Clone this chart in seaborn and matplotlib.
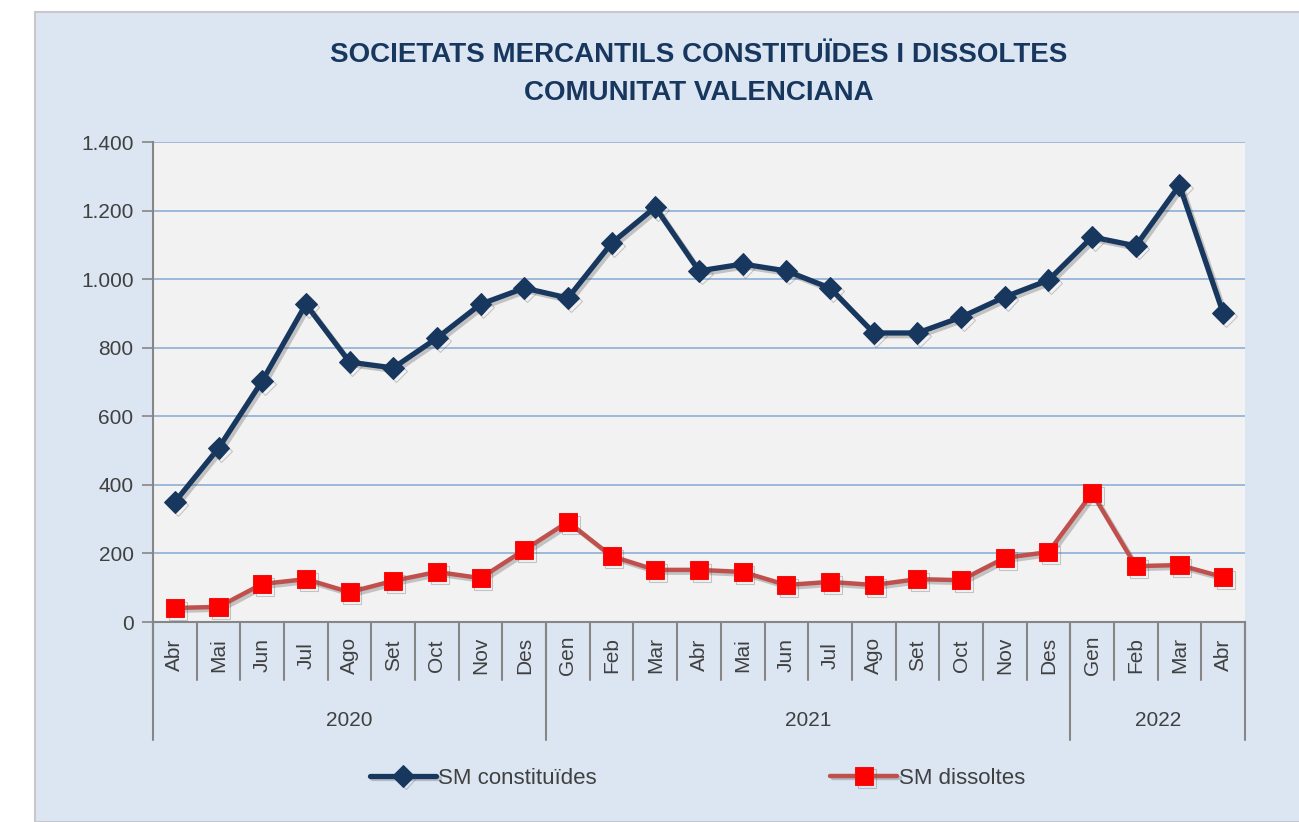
import matplotlib
matplotlib.use('Agg')
import matplotlib.pyplot as plt
import matplotlib.patheffects as pe
from matplotlib.patches import Rectangle
import seaborn as sns
import pandas as pd

# data
months = ['Abr', 'Mai', 'Jun', 'Jul', 'Ago', 'Set', 'Oct', 'Nov', 'Des',
          'Gen', 'Feb', 'Mar', 'Abr', 'Mai', 'Jun', 'Jul', 'Ago', 'Set', 'Oct', 'Nov', 'Des',
          'Gen', 'Feb', 'Mar', 'Abr']
years = ['2020', '2021', '2022']
year_counts = [9, 12, 4]
constituides = [350, 507, 703, 927, 758, 741, 828, 927, 974,
                945, 1105, 1210, 1024, 1044, 1024, 974, 843, 843, 889, 948, 997,
                1123, 1097, 1274, 901]
dissoltes = [41, 44, 111, 125, 87, 120, 146, 128, 210,
             292, 192, 152, 152, 146, 108, 117, 108, 125, 122, 187, 204,
             376, 163, 166, 131]

df = pd.DataFrame({'idx': range(len(months)), 'mes': months,
                   'constituides': constituides, 'dissoltes': dissoltes})

sns.set_style('white')
plt.rcParams['font.family'] = ['Liberation Sans', 'DejaVu Sans']

navy = '#17375e'
red_line = '#c0504d'
text_col = '#404040'

fig = plt.figure(figsize=(12.99, 8.22), dpi=100)
fig.patch.set_facecolor('white')
fig.patches.append(Rectangle((35 / 1299, 0), 1, 1 - 12 / 822, transform=fig.transFigure,
                             facecolor='#dce6f2', edgecolor='#c8c8c8', lw=1.5, zorder=-10))

ax = fig.add_axes([153 / 1299, 1 - 622 / 822, (1245 - 153) / 1299, 480 / 822])
ax.set_facecolor('#f2f2f2')

shadow = [pe.SimpleLineShadow(offset=(2, -2), alpha=0.3, shadow_color='#555555'), pe.Normal()]

sns.lineplot(data=df, x='idx', y='constituides', ax=ax, color=navy, lw=3.8,
             marker='D', markersize=11, markerfacecolor=navy, markeredgecolor=navy,
             label='SM constituïdes', path_effects=shadow)
sns.lineplot(data=df, x='idx', y='dissoltes', ax=ax, color=red_line, lw=3.2,
             marker='s', markersize=13, markerfacecolor='#ff0000', markeredgecolor='#ee1111',
             label='SM dissoltes', path_effects=shadow)

ax.set_xlim(-0.5, len(months) - 0.5)
ax.set_ylim(0, 1400)
ax.set_yticks(range(0, 1401, 200))
ax.set_yticklabels([f'{v:,}'.replace(',', '.') for v in range(0, 1401, 200)],
                   fontsize=15, color=text_col)
ax.tick_params(axis='y', length=8, width=1.2, color='#868686', pad=6, left=True)
ax.yaxis.grid(True, color='#95b3d7', lw=1.3)
ax.set_axisbelow(True)

ax.set_xticks(df['idx'])
ax.set_xticklabels(df['mes'], rotation=90, fontsize=15, color=text_col, va='center')
ax.tick_params(axis='x', length=0, pad=24)
ax.set_xlabel('')
ax.set_ylabel('')

for side in ['top', 'right']:
    ax.spines[side].set_visible(False)
for side in ['left', 'bottom']:
    ax.spines[side].set_color('#868686')
    ax.spines[side].set_linewidth(1.5)

# category separators below the axis
trans = ax.get_xaxis_transform()
for b in range(len(months) + 1):
    ax.plot([b - 0.5, b - 0.5], [0, -0.12], transform=trans, color='#868686', lw=1.5, clip_on=False)

# year groups
start = 0
for yr, n in zip(years, year_counts):
    ax.plot([start - 0.5, start - 0.5], [0, -0.245], transform=trans, color='#868686', lw=1.5, clip_on=False)
    ax.text(start + (n - 1) / 2, -0.205, yr, transform=trans, ha='center', va='center',
            fontsize=15, color=text_col)
    start += n
ax.plot([start - 0.5, start - 0.5], [0, -0.245], transform=trans, color='#868686', lw=1.5, clip_on=False)

fig.text(0.538, 1 - 55 / 822, 'SOCIETATS MERCANTILS CONSTITUÏDES I DISSOLTES', ha='center', va='center',
         fontsize=20, fontweight='bold', color=navy)
fig.text(0.538, 1 - 93 / 822, 'COMUNITAT VALENCIANA', ha='center', va='center',
         fontsize=20, fontweight='bold', color=navy)

handles, labels = ax.get_legend_handles_labels()
ax.legend_.remove()
fig.legend(handles, labels, loc='center', bbox_to_anchor=(0.537, 1 - 778 / 822), ncol=2,
           frameon=False, fontsize=16, handlelength=3.0, handletextpad=0.1, columnspacing=10.5,
           labelcolor=text_col)

fig.savefig('out.png', dpi=100)
